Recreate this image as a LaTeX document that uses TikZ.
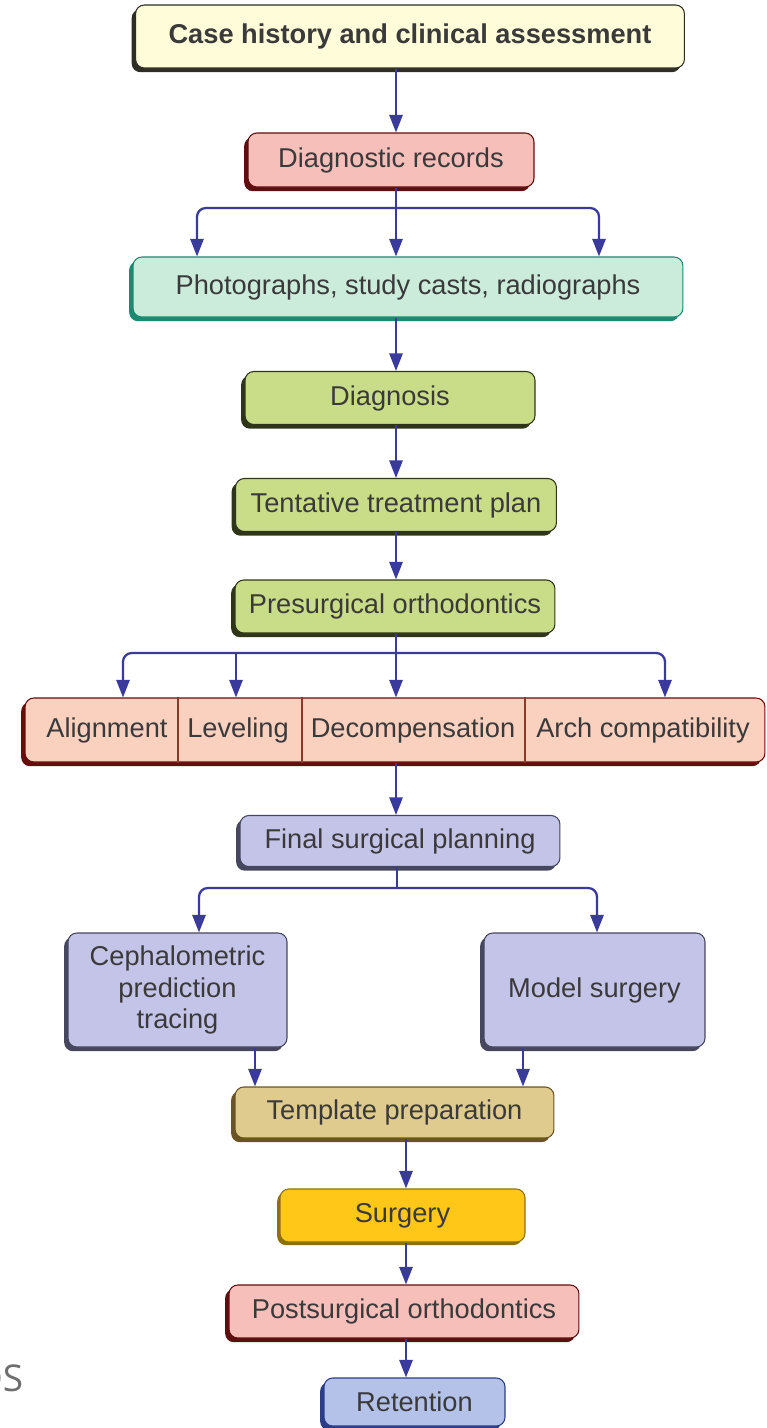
\documentclass[tikz,border=0pt]{standalone}
\usepackage{fontspec}
\setsansfont{Liberation Sans}
\newfontfamily\fragfont{Open Sans}
\usetikzlibrary{arrows.meta, shadows}
\definecolor{caseFill}{HTML}{FFFCDA}
\definecolor{caseLine}{HTML}{2E2E24}
\definecolor{pinkFill}{HTML}{F7BFBA}
\definecolor{pinkLine}{HTML}{5E0E0E}
\definecolor{tealFill}{HTML}{CBEBDB}
\definecolor{tealLine}{HTML}{1A8A70}
\definecolor{greenFill}{HTML}{C9DC88}
\definecolor{greenLine}{HTML}{2F3519}
\definecolor{peachFill}{HTML}{FAD0BF}
\definecolor{peachLine}{HTML}{680C0C}
\definecolor{divLine}{HTML}{8A3A2A}
\definecolor{lilacFill}{HTML}{C4C4E8}
\definecolor{lilacLine}{HTML}{46465E}
\definecolor{sandFill}{HTML}{DFCB8D}
\definecolor{sandLine}{HTML}{6A5424}
\definecolor{goldFill}{HTML}{FFC717}
\definecolor{goldLine}{HTML}{8E7010}
\definecolor{blueFill}{HTML}{B4C2EA}
\definecolor{blueLine}{HTML}{2C3C86}
\definecolor{arrowBlue}{HTML}{3A3A9C}
\definecolor{boxText}{HTML}{3A3A3A}
\definecolor{fragText}{HTML}{6E6E6E}

\begin{document}
\begin{tikzpicture}[
  x=0.02cm, y=-0.02cm,
  font=\sffamily\fontsize{15.5}{18}\selectfont,
  box/.style     ={rounded corners=5pt, line width=0.6pt, align=center, inner sep=0pt, text=boxText},
  caseBox/.style ={box, fill=caseFill, draw=caseLine,
                   general shadow={fill=caseLine, shadow xshift=-2.2pt, shadow yshift=-2.4pt}},
  pinkBox/.style ={box, fill=pinkFill, draw=pinkLine,
                   general shadow={fill=pinkLine, shadow xshift=-2.2pt, shadow yshift=-2.4pt}},
  tealBox/.style ={box, fill=tealFill, draw=tealLine,
                   general shadow={fill=tealLine, shadow xshift=-2.2pt, shadow yshift=-2.4pt}},
  greenBox/.style={box, fill=greenFill, draw=greenLine,
                   general shadow={fill=greenLine, shadow xshift=-2.2pt, shadow yshift=-2.4pt}},
  peachBox/.style={box, fill=peachFill, draw=peachLine,
                   general shadow={fill=peachLine, shadow xshift=-2.2pt, shadow yshift=-2.4pt}},
  lilacBox/.style={box, fill=lilacFill, draw=lilacLine,
                   general shadow={fill=lilacLine, shadow xshift=-2.2pt, shadow yshift=-2.4pt}},
  sandBox/.style ={box, fill=sandFill, draw=sandLine,
                   general shadow={fill=sandLine, shadow xshift=-2.2pt, shadow yshift=-2.4pt}},
  goldBox/.style ={box, fill=goldFill, draw=goldLine,
                   general shadow={fill=goldLine, shadow xshift=-1.6pt, shadow yshift=-1.8pt}},
  blueBox/.style ={box, fill=blueFill, draw=blueLine,
                   general shadow={fill=blueLine, shadow xshift=-2.2pt, shadow yshift=-2.4pt}},
  cell/.style    ={inner sep=0pt, text=boxText},
  divider/.style ={draw=divLine, line width=0.9pt},
  flow/.style    ={-{Triangle[length=10pt, width=7.5pt]}, draw=arrowBlue, line width=1.3pt},
  link/.style    ={draw=arrowBlue, line width=1.3pt},
]
\useasboundingbox (0,0) rectangle (767,1428);

% ----- Main column -----
\node[caseBox, minimum width=10.98cm, minimum height=1.26cm] (CASE) at (410,36.5)
  {\textbf{Case history and clinical assessment}};
\node[pinkBox, minimum width=5.72cm, minimum height=1.08cm] (DIAG) at (391,160)
  {Diagnostic records};
\node[tealBox, minimum width=11.0cm, minimum height=1.2cm] (PHOTO) at (408,287)
  {Photographs, study casts, radiographs};
\node[greenBox, minimum width=5.8cm, minimum height=1.06cm] (DIAGN) at (390,398)
  {Diagnosis};
\node[greenBox, minimum width=6.42cm, minimum height=1.06cm] (TENT) at (396,505)
  {Tentative treatment plan};
\node[greenBox, minimum width=6.4cm, minimum height=1.06cm] (PRE) at (395,606.5)
  {Presurgical orthodontics};

% ----- Four-part row -----
\node[peachBox, minimum width=14.8cm, minimum height=1.28cm] (ROW) at (395,730) {};
\node[cell] (ALIGN)  at (107,730) {Alignment};
\node[cell] (LEVEL)  at (238,730) {Leveling};
\node[cell] (DECOMP) at (413,730) {Decompensation};
\node[cell] (ARCH)   at (643,730) {Arch compatibility};
\draw[divider] (ROW.north -| 178,0) -- (ROW.south -| 178,0);
\draw[divider] (ROW.north -| 302,0) -- (ROW.south -| 302,0);
\draw[divider] (ROW.north -| 525,0) -- (ROW.south -| 525,0);

% ----- Surgical planning -----
\node[lilacBox, minimum width=6.4cm, minimum height=1.02cm] (FINAL) at (400,841)
  {Final surgical planning};
\node[lilacBox, minimum width=4.38cm, minimum height=2.28cm] (CEPH) at (177.5,990)
  {Cephalometric\\prediction\\tracing};
\node[lilacBox, minimum width=4.42cm, minimum height=2.28cm] (MODEL) at (594.5,990)
  {Model surgery};
\node[sandBox, minimum width=6.38cm, minimum height=1.02cm] (TEMPL) at (394.5,1112.5)
  {Template preparation};
\node[goldBox, minimum width=4.9cm, minimum height=1.06cm] (SURG) at (402.5,1215.5)
  {Surgery};
\node[pinkBox, minimum width=7.0cm, minimum height=1.06cm] (POST) at (404,1311.5)
  {Postsurgical orthodontics};
\node[blueBox, minimum width=3.62cm, minimum height=0.96cm] (RET) at (414.5,1402)
  {Retention};

% ----- Stray fragment at the left edge -----
\node[font=\fragfont\fontsize{21}{24}\selectfont, text=fragText, anchor=east, inner sep=0pt]
  (FRAG) at (23.5,1378) {OS};

% ----- Junctions -----
\coordinate (spine)   at (396,0);
\coordinate (spineB)  at (406,0);
\coordinate (splitA)  at (396,208);
\coordinate (splitAl) at (197,208);
\coordinate (splitAr) at (599,208);
\coordinate (splitB)  at (396,653);
\coordinate (splitBl) at (123,653);
\coordinate (splitBm) at (236,653);
\coordinate (splitBr) at (665,653);
\coordinate (splitC)  at (397,888);
\coordinate (splitCl) at (199,888);
\coordinate (splitCr) at (597,888);
\coordinate (cephOut) at (255,0);
\coordinate (modelOut) at (523,0);

% ----- Arrows -----
\draw[flow] (CASE.south -| spine) -- (DIAG.north -| spine);
\draw[flow] (DIAG.south -| spine) -- (PHOTO.north -| spine);
\draw[flow, rounded corners=5pt] (splitA) -- (splitAl) -- (splitAl |- PHOTO.north);
\draw[flow, rounded corners=5pt] (splitA) -- (splitAr) -- (splitAr |- PHOTO.north);
\draw[flow] (PHOTO.south -| spine) -- (DIAGN.north -| spine);
\draw[flow] (DIAGN.south -| spine) -- (TENT.north -| spine);
\draw[flow] (TENT.south -| spine) -- (PRE.north -| spine);
\draw[flow] (PRE.south -| spine) -- (ROW.north -| spine);
\draw[flow, rounded corners=5pt] (splitB) -- (splitBl) -- (splitBl |- ROW.north);
\draw[flow] (splitBm) -- (splitBm |- ROW.north);
\draw[flow, rounded corners=5pt] (splitB) -- (splitBr) -- (splitBr |- ROW.north);
\draw[flow] (ROW.south -| spine) -- (FINAL.north -| spine);
\draw[link] (FINAL.south -| splitC) -- (splitC);
\draw[flow, rounded corners=5pt] (splitC) -- (splitCl) -- (splitCl |- CEPH.north);
\draw[flow, rounded corners=5pt] (splitC) -- (splitCr) -- (splitCr |- MODEL.north);
\draw[flow] (CEPH.south -| cephOut) -- (TEMPL.north -| cephOut);
\draw[flow] (MODEL.south -| modelOut) -- (TEMPL.north -| modelOut);
\draw[flow] (TEMPL.south -| spineB) -- (SURG.north -| spineB);
\draw[flow] (SURG.south -| spineB) -- (POST.north -| spineB);
\draw[flow] (POST.south -| spineB) -- (RET.north -| spineB);

\end{tikzpicture}
\end{document}
